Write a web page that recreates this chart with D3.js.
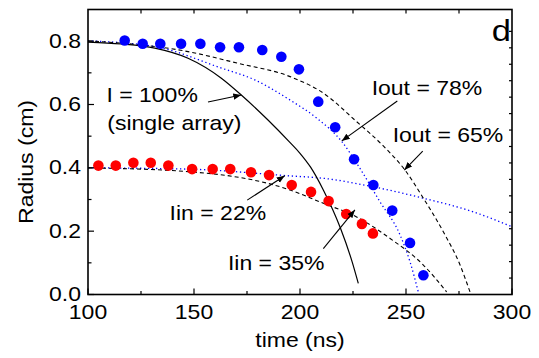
<!DOCTYPE html>
<html>
<head>
<meta charset="utf-8">
<script src="https://cdn.jsdelivr.net/npm/d3@7"></script>
<style>
  body { margin: 0; background: #fff; }
  svg { display: block; }
  text { font-family: "Liberation Sans", Arial, sans-serif; fill: #000; }
</style>
</head>
<body>
<div id="container"></div>
<script>
/* CONSTANTS AND GLOBALS */
const width = 539,
      height = 358,
      margin = {top: 9.5, bottom: 63.5, left: 88, right: 27};

const stretch = 1.15; // the font in the original is a bit wide

/* DATA */
// measured points, blue = outer array, red = inner array
const blueTime   = [117.3, 125.8, 134.1, 143.9, 153.0, 162.3, 171.2, 182.2, 191.2, 199.5, 208.6, 216.6, 225.5, 234.6, 243.5, 251.9, 258.2];
const blueRadius = [0.802, 0.792, 0.792, 0.792, 0.792, 0.781, 0.781, 0.772, 0.751, 0.711, 0.609, 0.528, 0.427, 0.346, 0.265, 0.163, 0.061];

const redTime   = [104.9, 113.1, 121.4, 129.6, 137.9, 149.1, 158.8, 167.1, 176.9, 185.4, 196.1, 205.2, 213.5, 221.8, 229.2, 234.4];
const redRadius = [0.407, 0.407, 0.416, 0.416, 0.407, 0.396, 0.396, 0.396, 0.386, 0.377, 0.346, 0.324, 0.295, 0.254, 0.223, 0.193];

// model curves
const single100 = [[100, 0.797], [115.7, 0.791], [131.5, 0.778], [147.2, 0.746], [162.9, 0.683], [172.3, 0.630],
                   [184.9, 0.551], [195.0, 0.482], [200, 0.446], [205, 0.402], [211, 0.330], [219.1, 0.209],
                   [224.6, 0.103], [227.5, 0.035]];
const out65 = [[100, 0.801], [147.2, 0.767], [170.8, 0.730], [195.3, 0.688], [211, 0.636], [226.7, 0.546],
               [239.3, 0.469], [249.5, 0.393], [258.2, 0.304], [267.6, 0.198], [275.5, 0.093], [280.2, 0.008]];
const out78 = [[100, 0.801], [131.5, 0.783], [162.9, 0.715], [178.6, 0.678], [195.3, 0.614], [207.9, 0.557],
               [219.7, 0.483], [228.3, 0.398], [237.7, 0.293], [247.2, 0.188], [251.9, 0.103], [255.8, 0.008]];
const in22 = [[100, 0.400], [147.2, 0.396], [194.3, 0.375], [211, 0.367], [234.6, 0.340], [258.2, 0.304],
              [281.7, 0.261], [300, 0.214]];
const in35 = [[100, 0.400], [147.2, 0.388], [195.3, 0.330], [211, 0.288], [226.7, 0.245], [242.5, 0.177],
              [258.2, 0.093], [269.2, 0.008]];

// ticks
const xTicks = [100, 150, 200, 250, 300];
const xMinor = [125, 175, 225, 275];
const yTicks = [0.0, 0.2, 0.4, 0.6, 0.8];
const yMinor = [0.1, 0.3, 0.5, 0.7];
const rightTicks = d3.range(1, 17);

// annotations: [text, t, r]
const labels = [
  ["I = 100%", 108.7, 0.609],
  ["(single array)", 109.1, 0.520],
  ["Iout = 78%", 233.8, 0.630],
  ["Iout = 65%", 243.7, 0.481],
  ["Iin = 22%", 138.5, 0.235],
  ["Iin = 35%", 166.0, 0.077]
];
// arrows: [t0, r0, t1, r1] (tail -> head)
const arrows = [
  [156.6, 0.608, 172.3, 0.630],
  [245.9, 0.611, 219.7, 0.485],
  [257.9, 0.453, 249.2, 0.393],
  [175.1, 0.298, 192.8, 0.375],
  [211.0, 0.145, 225.9, 0.267]
];

/* SCALES */
const xScale = d3.scaleLinear()
                 .domain([100, 300])
                 .range([margin.left, width - margin.right]);

const yScale = d3.scaleLinear()
                 .domain([0, 0.9])
                 .range([height - margin.bottom, margin.top]);

const rScale = d3.scaleLinear()
                 .domain([0, 17.33])
                 .range([height - margin.bottom, margin.top]);

const svg = d3.select("#container")
              .append("svg")
              .attr("width", width)
              .attr("height", height);

svg.append("defs").append("marker")
   .attr("id", "head")
   .attr("viewBox", "0 0 10 10")
   .attr("refX", 10).attr("refY", 5)
   .attr("markerWidth", 8).attr("markerHeight", 8)
   .attr("markerUnits", "userSpaceOnUse")
   .attr("orient", "auto")
   .append("path")
   .attr("d", "M0,1 L10,5 L0,9 z")
   .attr("fill", "#000");

/* CURVES */
const lineGen = d3.line()
  .x(d => xScale(d[0]))
  .y(d => yScale(d[1]))
  .curve(d3.curveMonotoneX);

const curves = [
  {data: in22, stroke: "#0000ff", dash: "1.3,2.7", w: 1.3},
  {data: out78, stroke: "#0000ff", dash: "1.3,2.7", w: 1.3},
  {data: in35, stroke: "#000", dash: "4,3", w: 1.1},
  {data: out65, stroke: "#000", dash: "4,3", w: 1.1},
  {data: single100, stroke: "#000", dash: null, w: 1.2}
];

svg.selectAll(".curve")
   .data(curves)
   .join("path")
   .attr("class", "curve")
   .attr("fill", "none")
   .attr("stroke", d => d.stroke)
   .attr("stroke-width", d => d.w)
   .attr("stroke-dasharray", d => d.dash)
   .attr("d", d => lineGen(d.data));

/* POINTS */
svg.selectAll(".blue")
   .data(blueTime.map((t, i) => [t, blueRadius[i]]))
   .join("circle")
   .attr("class", "blue")
   .attr("cx", d => xScale(d[0]))
   .attr("cy", d => yScale(d[1]))
   .attr("r", 5.3)
   .attr("fill", "#0000ff");

svg.selectAll(".red")
   .data(redTime.map((t, i) => [t, redRadius[i]]))
   .join("circle")
   .attr("class", "red")
   .attr("cx", d => xScale(d[0]))
   .attr("cy", d => yScale(d[1]))
   .attr("r", 5.3)
   .attr("fill", "#ff0000");

/* ARROWS + LABELS */
svg.selectAll(".arrow")
   .data(arrows)
   .join("line")
   .attr("class", "arrow")
   .attr("x1", d => xScale(d[0])).attr("y1", d => yScale(d[1]))
   .attr("x2", d => xScale(d[2])).attr("y2", d => yScale(d[3]))
   .attr("stroke", "#000")
   .attr("stroke-width", 1.1)
   .attr("marker-end", "url(#head)");

svg.selectAll(".label")
   .data(labels)
   .join("text")
   .attr("class", "label")
   .attr("transform", d => `translate(${xScale(d[1])},${yScale(d[2])}) scale(${stretch},1)`)
   .style("font-size", "20px")
   .text(d => d[0]);

svg.append("text")
   .attr("transform", `translate(${xScale(290.4)},${yScale(0.802)}) scale(${stretch},1)`)
   .style("font-size", "30px")
   .text("d");

/* AXES */
const x0 = xScale(100), x1 = xScale(300), y0 = yScale(0), y1 = yScale(0.9);

const ax = svg.append("g").attr("stroke", "#000").attr("stroke-width", 1.2);

ax.selectAll(".xt")
  .data(xTicks.map(v => [v, 6]).concat(xMinor.map(v => [v, 3.5])))
  .join("line")
  .attr("x1", d => xScale(d[0])).attr("x2", d => xScale(d[0]))
  .attr("y1", y0).attr("y2", d => y0 - d[1]);

ax.selectAll(".xtop")
  .data(xMinor.concat(xTicks).filter(v => v > 100 && v < 300))
  .join("line")
  .attr("x1", d => xScale(d)).attr("x2", d => xScale(d))
  .attr("y1", y1).attr("y2", y1 + 4);

ax.selectAll(".yt")
  .data(yTicks.map(v => [v, 6]).concat(yMinor.map(v => [v, 3.5])))
  .join("line")
  .attr("y1", d => yScale(d[0])).attr("y2", d => yScale(d[0]))
  .attr("x1", x0).attr("x2", d => x0 + d[1]);

ax.selectAll(".rt")
  .data(rightTicks)
  .join("line")
  .attr("y1", d => rScale(d)).attr("y2", d => rScale(d))
  .attr("x1", x1).attr("x2", x1 - 3);

svg.append("rect")
   .attr("x", x0).attr("y", y1)
   .attr("width", x1 - x0).attr("height", y0 - y1)
   .attr("fill", "none")
   .attr("stroke", "#000")
   .attr("stroke-width", 1.6);

svg.selectAll(".xlab")
   .data(xTicks)
   .join("text")
   .attr("class", "xlab")
   .attr("transform", d => `translate(${xScale(d)},${y0 + 24}) scale(${stretch},1)`)
   .attr("text-anchor", "middle")
   .style("font-size", "20px")
   .text(d => d);

svg.selectAll(".ylab")
   .data(yTicks)
   .join("text")
   .attr("class", "ylab")
   .attr("transform", d => `translate(${x0 - 7},${yScale(d) + 6.5}) scale(${stretch},1)`)
   .attr("text-anchor", "end")
   .style("font-size", "20px")
   .text(d => d3.format(".1f")(d));

svg.append("text")
   .attr("transform", `translate(${(x0 + x1) / 2},${y0 + 52}) scale(${stretch},1)`)
   .attr("text-anchor", "middle")
   .style("font-size", "20px")
   .text("time (ns)");

svg.append("text")
   .attr("transform", `translate(33,${(y0 + y1) / 2 + 10}) rotate(-90) scale(${stretch},1)`)
   .attr("text-anchor", "middle")
   .style("font-size", "20px")
   .text("Radius (cm)");
</script>
</body>
</html>
